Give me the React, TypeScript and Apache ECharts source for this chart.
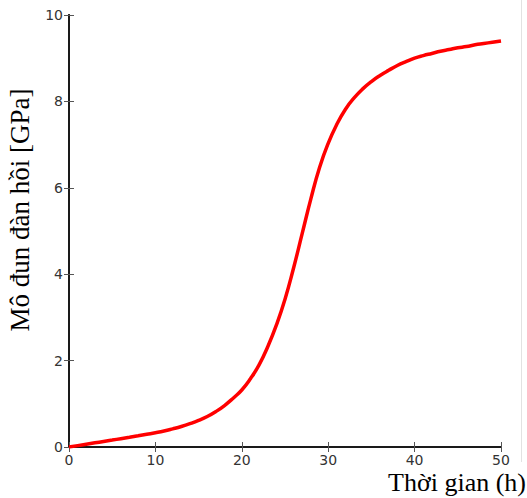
import React, { useEffect, useRef } from "react";
import * as echarts from "echarts";

// Elastic modulus development over curing time, sampled every hour
const timeHours = [
  0, 1, 2, 3, 4, 5, 6, 7, 8, 9, 10, 11, 12, 13, 14, 15, 16, 17, 18, 19, 20, 21, 22, 23, 24, 25,
  26, 27, 28, 29, 30, 31, 32, 33, 34, 35, 36, 37, 38, 39, 40, 41, 42, 43, 44, 45, 46, 47, 48, 49, 50,
];
const modulusGPa = [
  0, 0.032, 0.064, 0.096, 0.128, 0.16, 0.193, 0.226, 0.26, 0.295, 0.33, 0.37, 0.42, 0.475, 0.54,
  0.615, 0.705, 0.82, 0.96, 1.13, 1.32, 1.58, 1.9, 2.32, 2.82, 3.42, 4.15, 4.95, 5.75, 6.47, 7.03,
  7.47, 7.82, 8.08, 8.29, 8.46, 8.6, 8.72, 8.83, 8.92, 9.0, 9.06, 9.11, 9.16, 9.2, 9.24, 9.27,
  9.31, 9.34, 9.37, 9.4,
];

const xTicks = { min: 0, max: 50, interval: 10 };
const yTicks = { min: 0, max: 10, interval: 2 };

const xTitle = "Thời gian (h)";
const yTitle = "Mô đun đàn hồi [GPa]";

export default function App() {
  const ref = useRef<HTMLDivElement>(null);

  useEffect(() => {
    if (!ref.current) return;
    const chart = echarts.init(ref.current, undefined, { renderer: "svg" });

    const labelStyle = {
      color: "#333",
      fontFamily: "DejaVu Sans",
      fontSize: 14,
    };
    const lineStyle = { color: "#1a1a1a", width: 2 };
    const tickStyle = { color: "#555", width: 1 };

    const points = timeHours.map((t, i) => [t, modulusGPa[i]]);

    chart.setOption({
      animation: false,
      backgroundColor: "#fff",
      grid: { left: 69, right: 26, top: 15, bottom: 51, containLabel: false },
      xAxis: [
        {
          type: "value",
          ...xTicks,
          position: "bottom",
          axisLine: { show: true, lineStyle },
          axisTick: { show: true, inside: true, length: 5, lineStyle: tickStyle },
          axisLabel: { ...labelStyle, margin: 6 },
          splitLine: { show: false },
        },
        {
          type: "value",
          ...xTicks,
          position: "top",
          axisLine: { show: true, lineStyle },
          axisTick: { show: true, inside: true, length: 5, lineStyle: tickStyle },
          axisLabel: { show: false },
          splitLine: { show: false },
        },
      ],
      yAxis: [
        {
          type: "value",
          ...yTicks,
          position: "left",
          axisLine: { show: true, lineStyle },
          axisTick: { show: true, inside: true, length: 5, lineStyle: tickStyle },
          axisLabel: { ...labelStyle, margin: 6 },
          splitLine: { show: false },
        },
        {
          type: "value",
          ...yTicks,
          position: "right",
          axisLine: { show: true, lineStyle },
          axisTick: { show: true, inside: true, length: 5, lineStyle: tickStyle },
          axisLabel: { show: false },
          splitLine: { show: false },
        },
      ],
      series: [
        {
          type: "line",
          data: points,
          smooth: 0.5,
          showSymbol: false,
          symbol: "none",
          lineStyle: { color: "#ff0000", width: 3.5 },
          z: 1,
        },
      ],
      graphic: [
        {
          type: "line",
          shape: { x1: 521.5, y1: 0, x2: 521.5, y2: 462 },
          style: { stroke: "#e2e2e2", lineWidth: 1 },
          z: -1,
        },
        {
          type: "text",
          x: 20,
          y: 210,
          rotation: Math.PI / 2,
          style: {
            text: yTitle,
            fontFamily: "Liberation Serif",
            fontSize: 27,
            fill: "#000",
            align: "center",
            verticalAlign: "middle",
          },
        },
        {
          type: "text",
          x: 526,
          y: 495,
          style: {
            text: xTitle,
            fontFamily: "Liberation Serif",
            fontSize: 26,
            fill: "#000",
            align: "right",
            verticalAlign: "bottom",
          },
        },
      ],
    });

    return () => chart.dispose();
  }, []);

  return (
    <div
      ref={ref}
      style={{ position: "fixed", left: 0, top: 0, width: 527, height: 498, background: "#fff" }}
    />
  );
}
